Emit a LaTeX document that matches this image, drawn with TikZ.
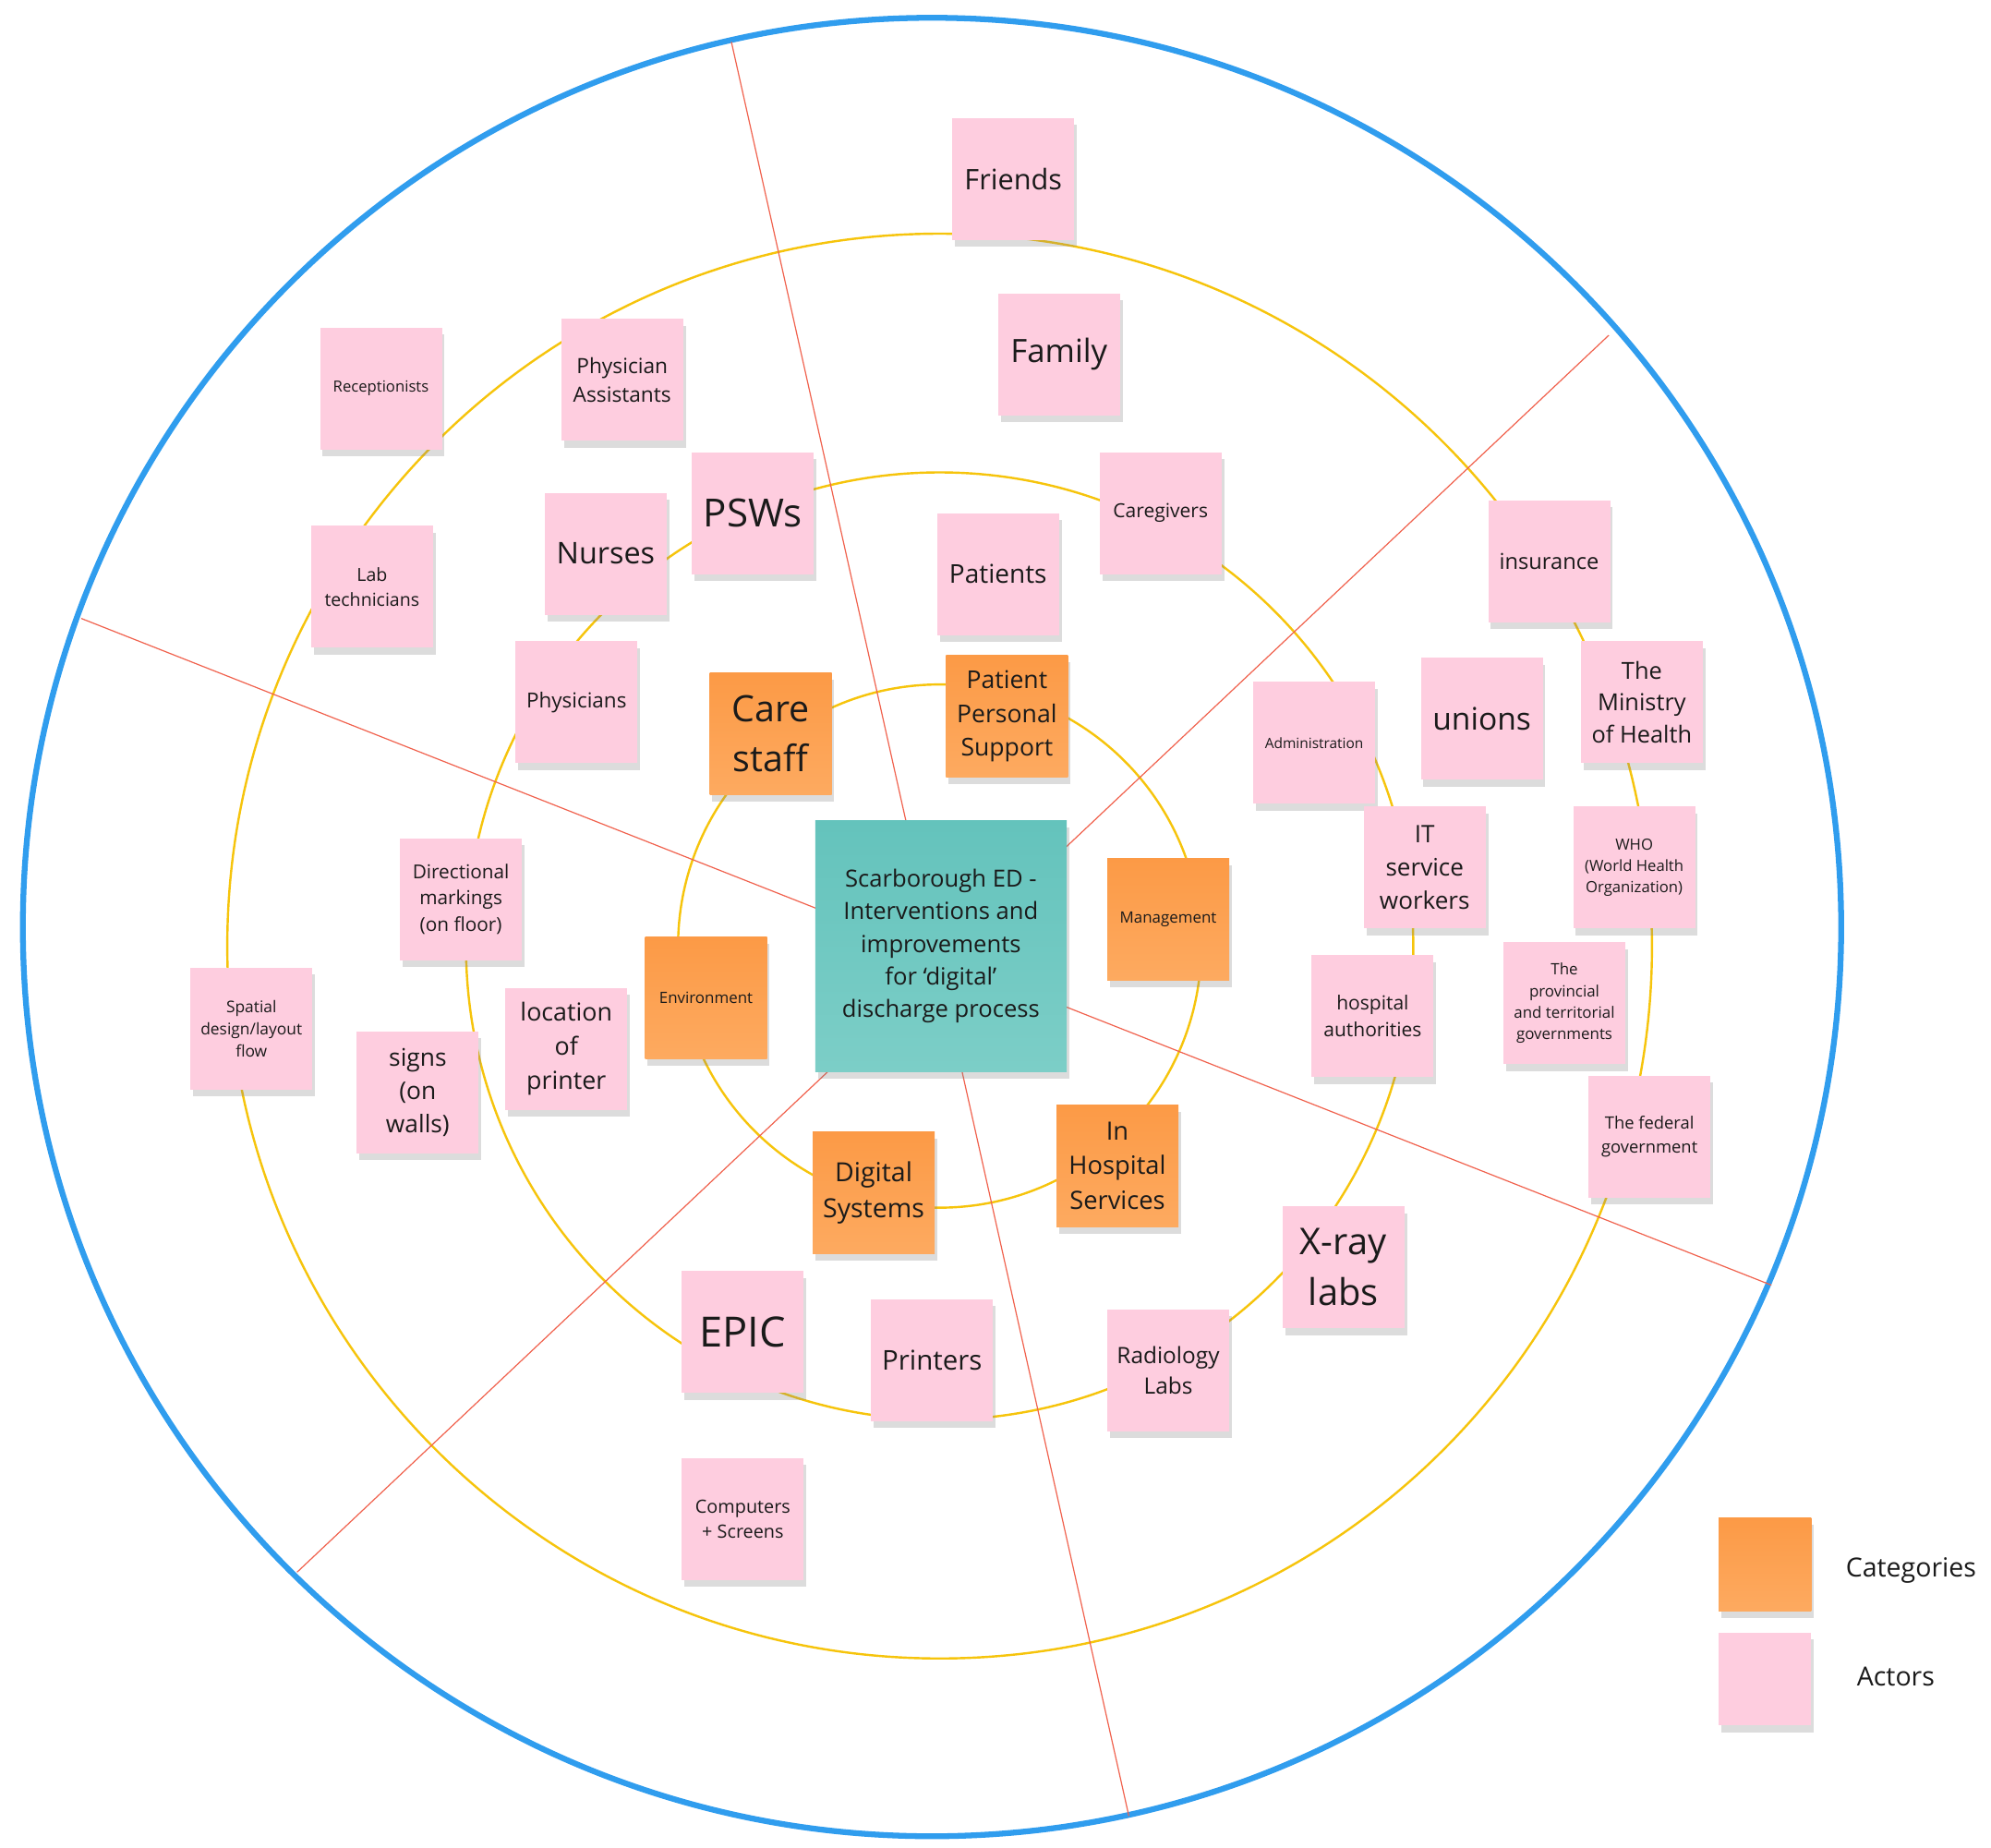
\documentclass[tikz,border=0pt]{standalone}
\usepackage{fontspec}
\setmainfont{Open Sans}
\usepackage{tikz}
\usetikzlibrary{shadows}
\definecolor{myblue}{RGB}{48,157,238}
\definecolor{myyellow}{RGB}{246,196,12}
\definecolor{myred}{RGB}{240,98,78}
\definecolor{notepink}{RGB}{254,205,223}
\definecolor{orangetop}{RGB}{252,154,70}
\definecolor{orangebot}{RGB}{253,170,96}
\definecolor{tealtop}{RGB}{100,195,188}
\definecolor{tealbot}{RGB}{124,206,199}
\definecolor{inkdark}{RGB}{26,26,26}
\newcommand{\notefont}[1]{\fontsize{#1pt}{\dimexpr#1pt*137/100\relax}\selectfont}
\tikzset{
  sticky/.style={rectangle, minimum width=19.2mm, minimum height=19.2mm,
    inner sep=0pt, align=center, text=inkdark,
    drop shadow={shadow xshift=0.4mm, shadow yshift=-1.1mm, opacity=0.28}},
  actor/.style={sticky, fill=notepink, font=\notefont{#1}},
  category/.style={sticky, top color=orangetop, bottom color=orangebot, font=\notefont{#1}},
  topic/.style={sticky, minimum width=39.6mm, minimum height=39.6mm,
    top color=tealtop, bottom color=tealbot, font=\notefont{10.6}},
  keybox/.style={sticky, minimum width=14.6mm, minimum height=14.6mm},
  keytext/.style={text=inkdark, font=\notefont{11.8}},
  ring/.style={myyellow, line width=1pt},
  rim/.style={myblue, line width=2.6pt},
  divider/.style={myred, line width=0.5pt}
}
\begin{document}
\begin{tikzpicture}[x=0.2mm, y=-0.2mm]
  \useasboundingbox (0,0) rectangle (1568,1455);

  % Outer rim and rings
  \coordinate (rimc) at (734,730);
  \coordinate (ctr) at (740,745);
  \draw[rim] (rimc) circle[radius=716];
  \draw[ring] (ctr) circle[radius=561];
  \draw[ring] (ctr) circle[radius=373];
  \draw[ring] (ctr) circle[radius=206];

  % Sector dividers
  \coordinate (d1a) at (576,33);   \coordinate (d1b) at (889,1430);
  \coordinate (d2a) at (64,487);   \coordinate (d2b) at (1395,1012);
  \coordinate (d3a) at (1267,264); \coordinate (d3b) at (234,1238);
  \draw[divider] (d1a) -- (d1b);
  \draw[divider] (d2a) -- (d2b);
  \draw[divider] (d3a) -- (d3b);

  % Centre topic
  \node[topic] (topic) at (741,745) {Scarborough ED -\\Interventions and\\improvements\\for ‘digital’\\discharge process};

  % Categories
  \node[category=16.3] (care) at (607,578) {Care\\staff};
  \node[category=11] (pps) at (793,564) {Patient\\Personal\\Support};
  \node[category=7] (mgmt) at (920,724) {Management};
  \node[category=7] (env) at (556,786) {Environment};
  \node[category=11.8] (digsys) at (688,939) {Digital\\Systems};
  \node[category=11.3] (ihs) at (880,918) {In\\Hospital\\Services};

  % Actors, care staff side
  \node[actor=6.9] (recep) at (300,306) {Receptionists};
  \node[actor=9.4] (physasst) at (490,299) {Physician\\Assistants};
  \node[actor=17.4] (psws) at (593,404) {PSWs};
  \node[actor=13.4] (nurses) at (477,436) {Nurses};
  \node[actor=8.1] (labtech) at (293,462) {Lab\\technicians};
  \node[actor=9.3] (phys) at (454,553) {Physicians};

  % Actors, patient side
  \node[actor=12.7] (friends) at (798,141) {Friends};
  \node[actor=14.4] (family) at (834,279) {Family};
  \node[actor=8.7] (caregv) at (914,404) {Caregivers};
  \node[actor=11.6] (patients) at (786,452) {Patients};

  % Actors, management side
  \node[actor=9.8] (insur) at (1220,442) {insurance};
  \node[actor=6.4] (admin) at (1035,585) {Administration};
  \node[actor=13.9] (unions) at (1167,566) {unions};
  \node[actor=10.5] (moh) at (1293,553) {The\\Ministry\\of Health};
  \node[actor=10.8] (itsw) at (1122,683) {IT\\service\\workers};
  \node[actor=6.9] (who) at (1287,683) {WHO\\(World Health\\Organization)};
  \node[actor=8.7] (hospauth) at (1081,800) {hospital\\authorities};
  \node[actor=7] (provgov) at (1232,790) {The\\provincial\\and territorial\\governments};
  \node[actor=7.6] (fedgov) at (1299,895) {The federal\\government};

  % Actors, environment side
  \node[actor=8.6] (dirmark) at (363,708) {Directional\\markings\\(on floor)};
  \node[actor=7.2] (spatial) at (198,810) {Spatial\\design/layout\\flow};
  \node[actor=10.9] (signs) at (329,860) {signs\\(on\\walls)};
  \node[actor=11.1] (locprint) at (446,826) {location\\of\\printer};

  % Actors, services and systems
  \node[actor=16.5] (xray) at (1058,998) {X-ray\\labs};
  \node[actor=10.1] (radlabs) at (920,1079) {Radiology\\Labs};
  \node[actor=18.7] (epic) at (585,1049) {EPIC};
  \node[actor=12.2] (printers) at (734,1071) {Printers};
  \node[actor=8.2] (comps) at (585,1196) {Computers\\+ Screens};

  % Key
  \node[keybox, top color=orangetop, bottom color=orangebot] (keycat) at (1390,1232) {};
  \node[keybox, fill=notepink] (keyact) at (1390,1322) {};
  \node[keytext] (keycatlbl) at (1505,1237) {Categories};
  \node[keytext] (keyactlbl) at (1493,1320) {Actors};
\end{tikzpicture}
\end{document}
